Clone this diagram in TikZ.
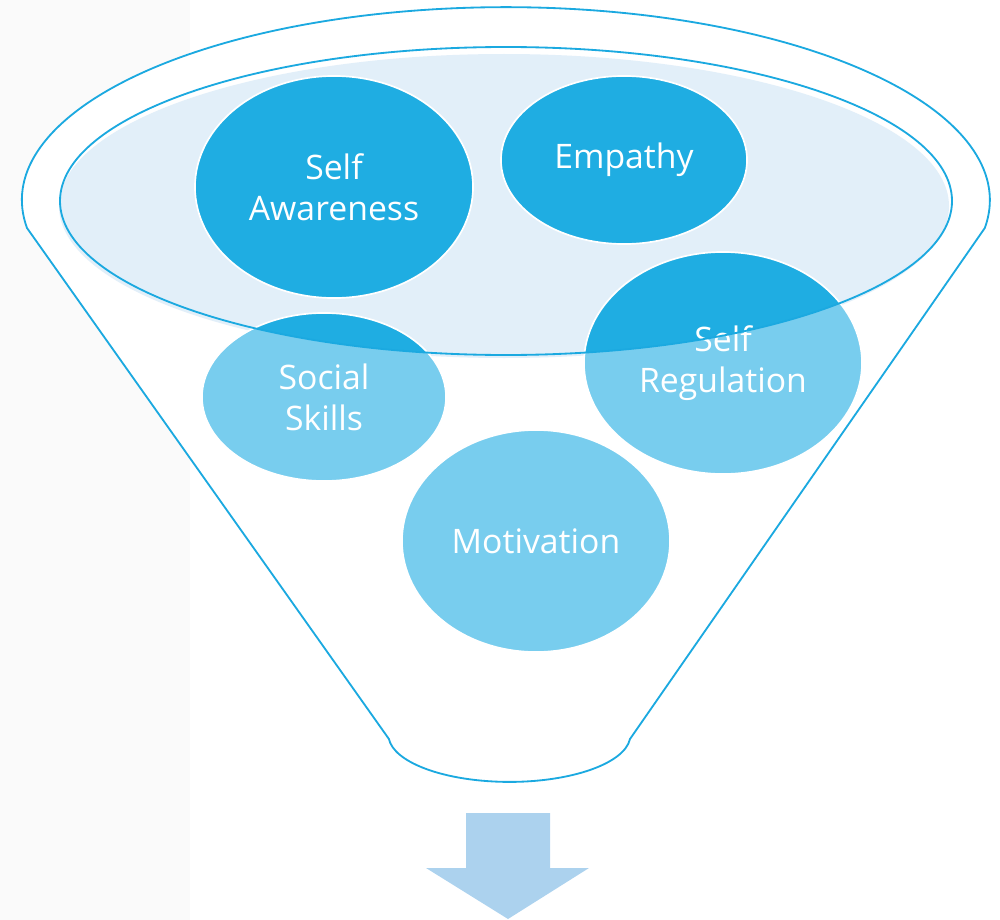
\documentclass[tikz,border=0pt]{standalone}
\usepackage{fontspec}
\setmainfont{Open Sans}
\usepackage{xcolor}
\usepackage{tikz}
\usetikzlibrary{shapes,positioning,calc}

\definecolor{funnelblue}{HTML}{1BA9E0}
\definecolor{bubbledark}{HTML}{1FADE2}
\definecolor{bubblelight}{HTML}{78CDEE}
\definecolor{rimfill}{HTML}{E2EFF9}
\definecolor{arrowfill}{HTML}{ACD2EE}
\definecolor{sidepanel}{HTML}{FAFAFA}

\begin{document}
\begin{tikzpicture}[x=0.025cm, y=-0.025cm,
    bubble/.style={ellipse, draw=white, line width=1.2pt, fill=bubbledark, text=white,
        align=center, inner sep=0pt, font=\fontsize{24}{29}\selectfont},
    lowbubble/.style={bubble, fill=bubblelight,
        path picture={\fill[bubbledark] (rim) ellipse [x radius=446, y radius=154];}}]
    \useasboundingbox (0,0) rectangle (1000,920);
    \fill[sidepanel] (0,0) rectangle (190,920);

    % Funnel
    \draw[funnelblue, line width=1.3pt, fill=white] (27,228)
        arc[start angle=171.7, end angle=368.3, x radius=484, y radius=193] -- (630,739)
        arc[start angle=5, end angle=175, x radius=121, y radius=47] -- cycle;
    \coordinate (rim) at (506,201);
    \fill[rimfill] (504,206) ellipse [x radius=445, y radius=152];

    % Bubbles
    \node[bubble, minimum width=6.95cm, minimum height=5.55cm] (aware) at (334,187) {Self\\Awareness};
    \node[bubble, minimum width=6.15cm, minimum height=4.2cm] (empathy) at (624,160) {Empathy};
    \node[lowbubble, minimum width=6.1cm, minimum height=4.2cm] (social) at (324,397) {Social\\Skills};
    \node[lowbubble, minimum width=6.95cm, minimum height=5.55cm] (regul) at (723,363) {Self\\Regulation};
    \node[lowbubble, minimum width=6.7cm, minimum height=5.55cm] (motiv) at (536,541) {Motivation};
    \draw[funnelblue, line width=1.3pt] (rim) ellipse [x radius=446, y radius=154];

    % Output arrow
    \fill[arrowfill] (466,813) -- (550,813) -- (550,868) -- (589,868) -- (508,919)
        -- (426,868) -- (466,868) -- cycle;
\end{tikzpicture}
\end{document}
